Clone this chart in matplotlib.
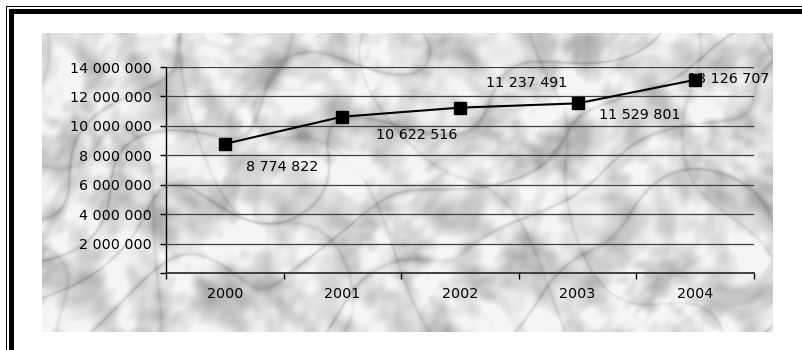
import numpy as np
import matplotlib
matplotlib.use('Agg')
import matplotlib.pyplot as plt
from matplotlib.patches import Rectangle

years = ['2000', '2001', '2002', '2003', '2004']
values = [8774822, 10622516, 11237491, 11529801, 13126707]
value_labels = ['8 774 822', '10 622 516', '11 237 491', '11 529 801', '13 126 707']
y_ticks = [0, 2000000, 4000000, 6000000, 8000000, 10000000, 12000000, 14000000]

# label offsets in pixels (left edge / vertical centre relative to the marker)
label_offsets = [(21, -23), (34, -18), (26, 25), (21, -12), (-7, 1)]

W, H = 803, 350
fig = plt.figure(figsize=(W / 100, H / 100), dpi=100)
fig.patch.set_facecolor('white')
plt.rcParams['font.family'] = ['DejaVu Sans']


def px_rect(x0, y0, x1, y1):
    # pixel box (origin top-left) -> figure fraction rect
    return [x0 / W, 1 - y1 / H, (x1 - x0) / W, (y1 - y0) / H]


# double frame, cut off at right and bottom edge
for box in [(6, 6, W, 7), (6, 6, 7, H), (9, 9, W, 14), (9, 9, 14, H)]:
    x0, y0, x1, y1 = box
    fig.add_artist(Rectangle((x0 / W, 1 - y1 / H), (x1 - x0) / W, (y1 - y0) / H,
                             transform=fig.transFigure, facecolor='black',
                             edgecolor='none'))

# marble-like background: sum of plane waves with domain warping
bg = fig.add_axes(px_rect(42, 33, 773, 332))
bg.set_axis_off()
hh, ww = 300, 731
yy, xx = np.mgrid[0:hh, 0:ww].astype(float)


def waves(px, py, n, base, seed):
    out = np.zeros_like(px)
    for k in range(n):
        ang = (k * 2.399 + seed) % np.pi
        freq = base * (1.0 + 0.37 * (k % 5))
        ph = (k * 1.618 + seed * 3.1) % (2 * np.pi)
        out += np.sin(freq * (px * np.cos(ang) + py * np.sin(ang)) + ph) / (1 + 0.3 * (k % 5))
    return out / n


wx = waves(xx, yy, 9, 0.025, 0.7) * 40
wy = waves(xx, yy, 9, 0.025, 1.9) * 40
mottle = waves(xx + wx, yy + wy, 14, 0.06, 2.3)
fine = waves(xx + wy, yy + wx, 12, 0.18, 3.7)
# diagonal veins, lower-left to upper-right
diag = (xx * 0.5 + yy) / 28.0
vein = np.abs(np.sin(diag + 6 * waves(xx, yy, 8, 0.02, 4.4)))
vein2 = np.abs(np.sin((xx * 0.9 - yy * 0.4) / 35.0 + 5 * waves(xx, yy, 8, 0.018, 5.2)))
tex = (0.87 + 0.45 * mottle + 0.2 * fine
       - 0.16 * (1 - vein) ** 10
       - 0.10 * (1 - vein2) ** 12)
tex = np.clip(tex, 0.6, 0.96)
bg.imshow(tex, cmap='gray', vmin=0, vmax=1, aspect='auto', interpolation='bilinear')

# chart
ax = fig.add_axes(px_rect(166, 67, 754, 273))
ax.patch.set_alpha(0)
x = np.arange(len(years))
ax.plot(x, values, color='black', linewidth=1.5, marker='s', markersize=9,
        markerfacecolor='black', markeredgecolor='black', zorder=3, clip_on=False)

for xi, v, lab, (dx, dy) in zip(x, values, value_labels, label_offsets):
    ax.annotate(lab, (xi, v), xytext=(dx, dy), textcoords='offset pixels',
                ha='left', va='center', fontsize=10.3, color='black', zorder=1,
                annotation_clip=False)

ax.set_xlim(-0.5, len(years) - 0.5)
ax.set_ylim(0, 14000000)
ax.set_yticks(y_ticks)
ax.set_yticklabels(['{:,}'.format(t).replace(',', ' ') if t else '' for t in y_ticks],
                   fontsize=10.3)
ax.set_xticks(x)
ax.set_xticklabels(years, fontsize=10.3)
ax.set_xticks(np.arange(-0.5, len(years)), minor=True)
ax.tick_params(axis='x', which='major', length=0, pad=10)
ax.tick_params(axis='x', which='minor', length=4, width=1, color='black', direction='out')
ax.tick_params(axis='y', length=4, width=1, color='black', direction='out', pad=6)

ax.grid(axis='y', color='#404040', linewidth=0.9)
ax.set_axisbelow(True)
for side in ['top', 'right']:
    ax.spines[side].set_visible(False)
ax.spines['left'].set_color('black')
ax.spines['bottom'].set_color('#333333')
ax.spines['left'].set_linewidth(1)
ax.spines['bottom'].set_linewidth(1.3)

fig.savefig('out.png', dpi=100)
